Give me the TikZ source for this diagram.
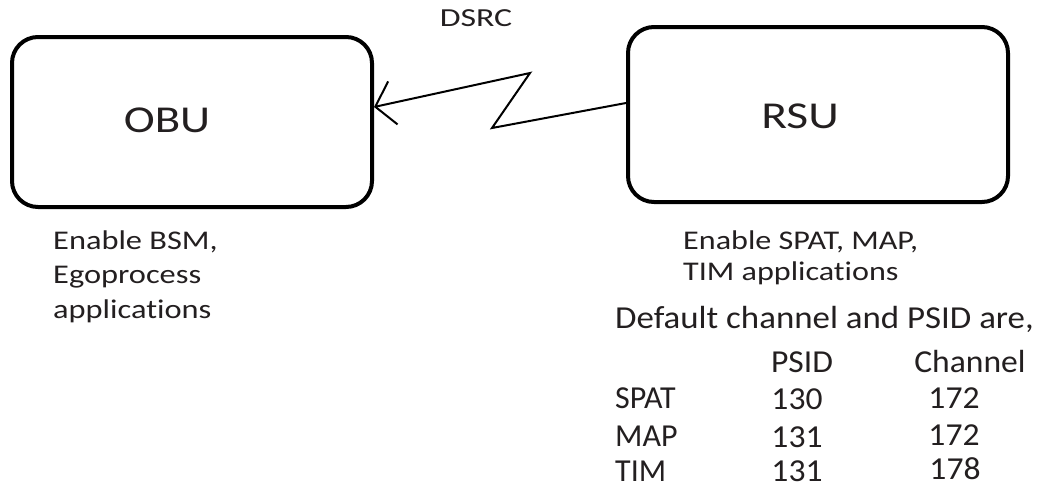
\documentclass[tikz,border=0pt]{standalone}
\usepackage{fontspec}
\setmainfont{Carlito}[Ligatures=NoCommon]
\usetikzlibrary{arrows.meta}
\definecolor{ink}{HTML}{231F20}
% wide text: horizontally stretched lettering
\newcommand{\wide}[2]{\scalebox{#1}[1]{#2}}
\tikzset{
  unit/.style={draw=black, line width=4pt, rounded corners=26pt, inner sep=0pt},
  unitname/.style={font=\fontsize{38}{44}\selectfont, text=ink, inner sep=0pt},
  note/.style={font=\fontsize{27}{32}\selectfont, text=ink, inner sep=0pt, anchor=base west},
  cell/.style={font=\fontsize{32}{36}\selectfont, text=ink, inner sep=0pt, anchor=base},
  cellL/.style={cell, anchor=base west},
  zap/.style={line width=2pt, -{Straight Barb[length=18pt,width=44pt,line width=2pt]}}
}
\begin{document}
\begin{tikzpicture}[x=1pt,y=-1pt]
\useasboundingbox[fill=white] (0,0) rectangle (1038,488);

% the two units
\node[unit, minimum width=360pt, minimum height=170pt] (obu) at (192,122) {};
\node[unit, minimum width=380pt, minimum height=175pt] (rsu) at (818,114.5) {};
\node[unitname, anchor=base] (obuname) at (167,132) {\wide{1.23}{OBU}};
\node[unitname, anchor=base] (rsuname) at (800,128) {\wide{1.25}{RSU}};

% DSRC radio link
\node[font=\fontsize{26}{30}\selectfont, text=ink, inner sep=0pt, anchor=base] (dsrc) at (476,26) {\wide{1.3}{DSRC}};
\coordinate (z1) at (492,128);
\coordinate (z2) at (530,73);
\draw[zap] ([yshift=11.5pt]rsu.west) -- (z1) -- (z2) -- ([yshift=15pt]obu.east);

% notes below the units
\node[note] (obunote1) at (53,249) {\wide{1.2}{Enable BSM,}};
\node[note] (obunote2) at (53,283.5) {\wide{1.2}{Egoprocess}};
\node[note] (obunote3) at (53,318) {\wide{1.2}{applications}};
\node[note] (rsunote1) at (683,249) {\wide{1.19}{Enable SPAT, MAP,}};
\node[note] (rsunote2) at (683,280) {\wide{1.19}{TIM applications}};

% default channel / PSID table
\node[cellL] (tabhead) at (615,328) {\wide{1.09}{Default channel and PSID are,}};
\node[cell] (hpsid) at (802,372) {\wide{1.05}{PSID}};
\node[cell] (hchan) at (970,372) {\wide{1.05}{Channel}};
\node[cellL] (r1) at (615,408) {\wide{1.0}{SPAT}};
\node[cell] (r1p) at (797,409) {\wide{1.05}{130}};
\node[cell] (r1c) at (954,408) {\wide{1.05}{172}};
\node[cellL] (r2) at (615,446) {\wide{1.0}{MAP}};
\node[cell] (r2p) at (797,447) {\wide{1.05}{131}};
\node[cell] (r2c) at (954,445) {\wide{1.05}{172}};
\node[cellL] (r3) at (615,481) {\wide{1.0}{TIM}};
\node[cell] (r3p) at (797,481) {\wide{1.05}{131}};
\node[cell] (r3c) at (955,479) {\wide{1.05}{178}};
\end{tikzpicture}
\end{document}
